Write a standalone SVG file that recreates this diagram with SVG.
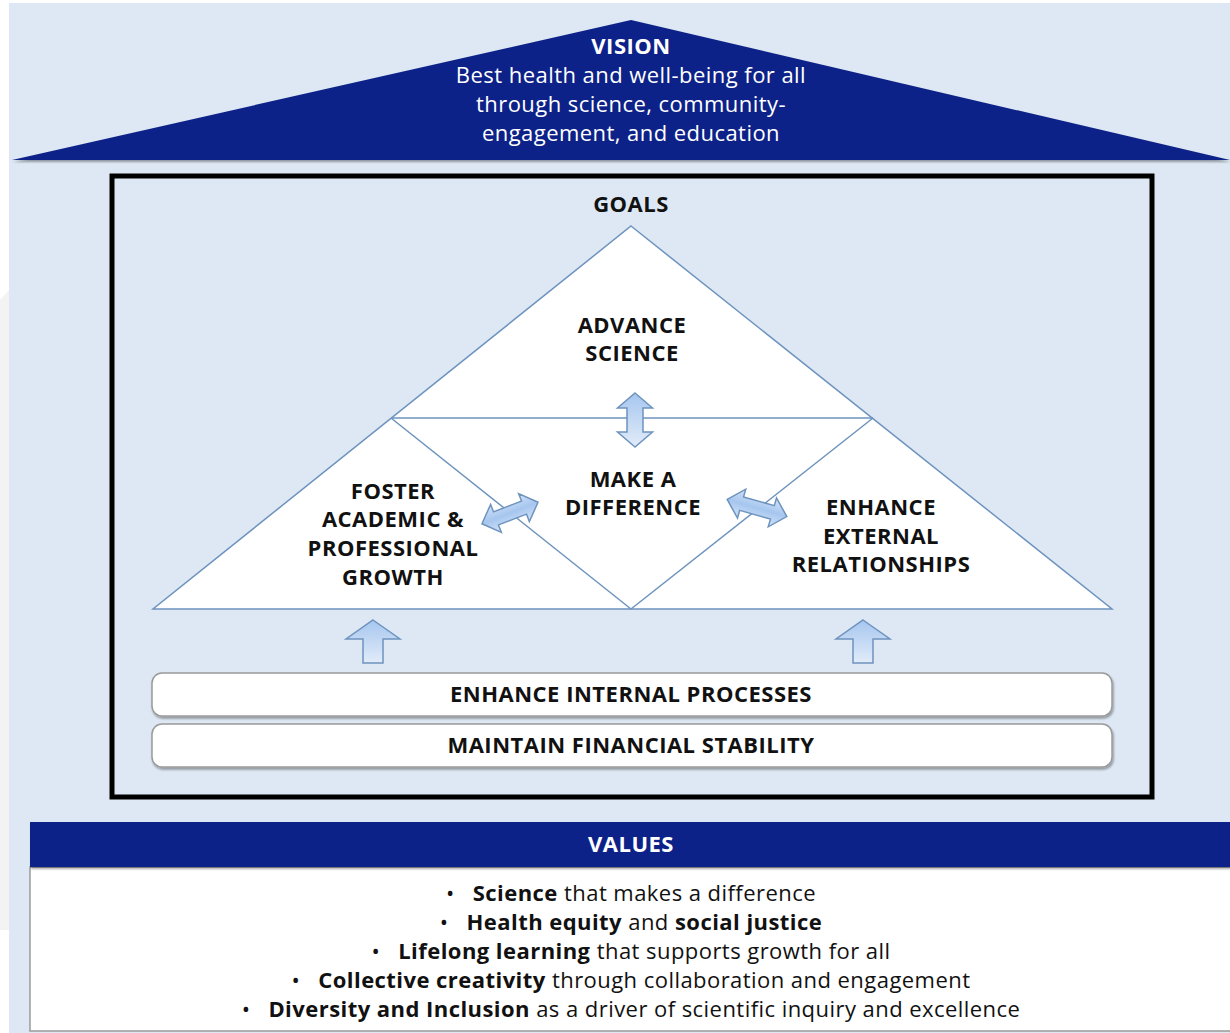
<svg xmlns="http://www.w3.org/2000/svg" width="1230" height="1033" viewBox="0 0 1230 1033">
<defs>
<style>
.t{font-family:"Open Sans","Liberation Sans",sans-serif;text-anchor:middle;}
.b{font-weight:bold;font-size:22px;letter-spacing:0.5px;fill:#111;}
.w{fill:#fff;}
.r{font-size:22px;letter-spacing:0.45px;}
.tri{fill:#fff;stroke:#6d93be;stroke-width:1.5;}
.arr{fill:url(#ag);stroke:#6d93be;stroke-width:1.5;stroke-linejoin:miter;}
.bar{fill:#fff;stroke:#9a9a9a;stroke-width:1.5;}
</style>
<linearGradient id="ag" x1="0" y1="0" x2="0" y2="1">
<stop offset="0" stop-color="#a6c6ef"/>
<stop offset="1" stop-color="#e2ecf9"/>
</linearGradient>
<linearGradient id="agh" x1="0" y1="0" x2="0" y2="1">
<stop offset="0" stop-color="#d3e3f7"/>
<stop offset="0.5" stop-color="#a6c6ef"/>
<stop offset="1" stop-color="#d3e3f7"/>
</linearGradient>
<filter id="sh" x="-5%" y="-5%" width="110%" height="120%">
<feDropShadow dx="1" dy="2" stdDeviation="1.2" flood-color="#000" flood-opacity="0.35"/>
</filter>
</defs>
<rect x="0" y="0" width="1230" height="1033" fill="#ffffff"/>
<path d="M0 300 L9 290 L9 930 L0 930 Z" fill="#f3f3f3"/>
<rect x="9" y="3" width="1221" height="1030" fill="#dde8f4"/>

<g id="vision">
<polygon points="12,160 631,20 1230,160" fill="#0e2388" filter="url(#sh)"/>
<text class="t b w" x="631" y="54">VISION</text>
<text class="t r w" x="631" y="83">Best health and well-being for all</text>
<text class="t r w" x="631" y="112">through science, community-</text>
<text class="t r w" x="631" y="141">engagement, and education</text>
</g>

<g id="goals-frame">
<rect x="112" y="176" width="1040" height="621" fill="none" stroke="#000" stroke-width="5"/>
<text class="t b" x="631" y="212">GOALS</text>
</g>

<g id="goals-triangle">
<polygon class="tri" points="631,226 1112,609 153,609"/>
<line class="tri" x1="391" y1="418" x2="873" y2="418"/>
<line class="tri" x1="391" y1="418" x2="631" y2="609"/>
<line class="tri" x1="873" y1="418" x2="631" y2="609"/>
</g>

<g id="advance-science">
<text class="t b" x="632" y="333">ADVANCE</text>
<text class="t b" x="632" y="361">SCIENCE</text>
</g>
<g id="make-a-difference">
<text class="t b" x="633" y="487">MAKE A</text>
<text class="t b" x="633" y="515">DIFFERENCE</text>
</g>
<g id="foster-growth">
<text class="t b" x="393" y="499">FOSTER</text>
<text class="t b" x="393" y="527">ACADEMIC &amp;</text>
<text class="t b" x="393" y="556">PROFESSIONAL</text>
<text class="t b" x="393" y="585">GROWTH</text>
</g>
<g id="enhance-external">
<text class="t b" x="881" y="515">ENHANCE</text>
<text class="t b" x="881" y="544">EXTERNAL</text>
<text class="t b" x="881" y="572">RELATIONSHIPS</text>
</g>

<g id="connectors">
<path class="arr" d="M635,393 L652.5,408 L643,408 L643,432 L652.5,432 L635,447 L617.5,432 L627,432 L627,408 L617.5,408 Z"/>
<path class="arr" transform="translate(510,513) rotate(-21)" style="fill:url(#agh)" d="M-30,0 L-15,-15 L-15,-7 L15,-7 L15,-15 L30,0 L15,15 L15,7 L-15,7 L-15,15 Z"/>
<path class="arr" transform="translate(757,508) rotate(16)" style="fill:url(#agh)" d="M-31,0 L-16,-15 L-16,-7 L16,-7 L16,-15 L31,0 L16,15 L16,7 L-16,7 L-16,15 Z"/>
<path class="arr" d="M373,620 L400,639 L383,639 L383,663 L363,663 L363,639 L346,639 Z"/>
<path class="arr" d="M863,620 L890,639 L873,639 L873,663 L853,663 L853,639 L836,639 Z"/>
</g>

<g id="internal-processes">
<rect class="bar" x="152" y="673" width="960" height="43" rx="10" filter="url(#sh)"/>
<text class="t b" x="631" y="702">ENHANCE INTERNAL PROCESSES</text>
</g>
<g id="financial-stability">
<rect class="bar" x="152" y="724" width="960" height="43" rx="10" filter="url(#sh)"/>
<text class="t b" x="631" y="753">MAINTAIN FINANCIAL STABILITY</text>
</g>

<g id="values">
<rect x="30" y="867" width="1210" height="164" fill="#fff" stroke="#9a9a9a" stroke-width="1.5"/>
<rect x="30" y="822" width="1200" height="45" fill="#0e2388" filter="url(#sh)"/>
<text class="t b w" x="631" y="852">VALUES</text>
<text class="t r" x="631" y="901" fill="#111">•<tspan dx="18" font-weight="bold">Science</tspan> that makes  a difference</text>
<text class="t r" x="631" y="930" fill="#111">•<tspan dx="18" font-weight="bold">Health equity</tspan> and <tspan font-weight="bold">social justice</tspan></text>
<text class="t r" x="631" y="959" fill="#111">•<tspan dx="18" font-weight="bold">Lifelong learning</tspan> that supports growth for all</text>
<text class="t r" x="631" y="988" fill="#111">•<tspan dx="18" font-weight="bold">Collective creativity</tspan> through collaboration and engagement</text>
<text class="t r" x="631" y="1017" fill="#111">•<tspan dx="18" font-weight="bold">Diversity and Inclusion</tspan> as a driver of scientific inquiry and excellence</text>
</g>
</svg>
